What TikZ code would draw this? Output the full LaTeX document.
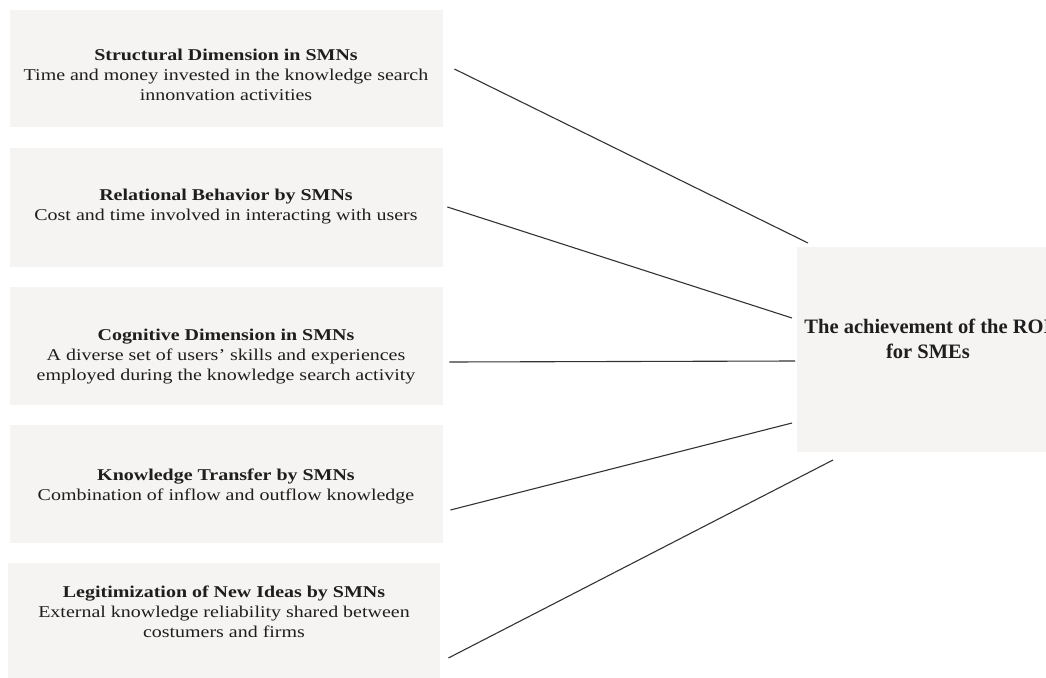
\documentclass[tikz,border=0pt]{standalone}
\usepackage{fontspec}
\setmainfont{Liberation Serif}
\newfontfamily\leftfont[FakeStretch=1.21]{Liberation Serif}
\usetikzlibrary{calc}
\definecolor{boxfill}{HTML}{F5F4F2}
\definecolor{ink}{HTML}{1E1E1E}
\definecolor{linec}{HTML}{333333}
\tikzset{
  panel/.style={rectangle, draw=none, fill=boxfill, inner sep=0pt, anchor=north west},
  lefttext/.style={anchor=north, align=center, inner sep=0pt, text=ink, font=\leftfont\fontsize{16.5}{20}\selectfont},
  roitext/.style={anchor=north, align=center, inner sep=0pt, text=ink, font=\fontsize{20.5}{25}\selectfont\bfseries},
  link/.style={draw=linec, line width=1.1pt}
}
\begin{document}
\begin{tikzpicture}[x=1pt,y=-1pt]
\useasboundingbox (0,0) rectangle (1046,677);
\begin{scope}
\clip (0,0) rectangle (1046,677);
% left panels
\node[panel, minimum width=433pt, minimum height=117pt] (b1) at (10,10) {};
\node[panel, minimum width=433pt, minimum height=119pt] (b2) at (10,148) {};
\node[panel, minimum width=433pt, minimum height=118pt] (b3) at (10,287) {};
\node[panel, minimum width=433pt, minimum height=118pt] (b4) at (10,425) {};
\node[panel, minimum width=432pt, minimum height=120pt] (b5) at (8,563) {};
% right panel
\node[panel, minimum width=270pt, minimum height=205pt] (roi) at (797,247) {};

% texts
\node[lefttext] (t1) at (226,49) {\textbf{Structural Dimension in SMNs}\\Time and money invested in the knowledge search\\innonvation activities};
\node[lefttext] (t2) at (226,189) {\textbf{Relational Behavior by SMNs}\\Cost and time involved in interacting with users};
\node[lefttext] (t3) at (226,329) {\textbf{Cognitive Dimension in SMNs}\\A diverse set of users’ skills and experiences\\employed during the knowledge search activity};
\node[lefttext] (t4) at (226,469) {\textbf{Knowledge Transfer by SMNs}\\Combination of inflow and outflow knowledge};
\node[lefttext] (t5) at (224,586) {\textbf{Legitimization of New Ideas by SMNs}\\External knowledge reliability shared between\\costumers and firms};
\node[roitext] (tr) at (928,319) {The achievement of the ROI\\for SMEs};

% connectors
\draw[link] ($(b1.north east)+(11,59)$) -- ($(roi.north west)+(11,-4)$);
\draw[link] ($(b2.north east)+(4,59)$) -- ($(roi.north west)+(-5,71)$);
\draw[link] ($(b3.north east)+(6,75)$) -- ($(roi.north west)+(-2,114)$);
\draw[link] ($(b4.north east)+(7,85)$) -- ($(roi.north west)+(-5,176)$);
\draw[link] ($(b5.north east)+(8,95)$) -- ($(roi.north west)+(36,213)$);
\end{scope}
\end{tikzpicture}
\end{document}
